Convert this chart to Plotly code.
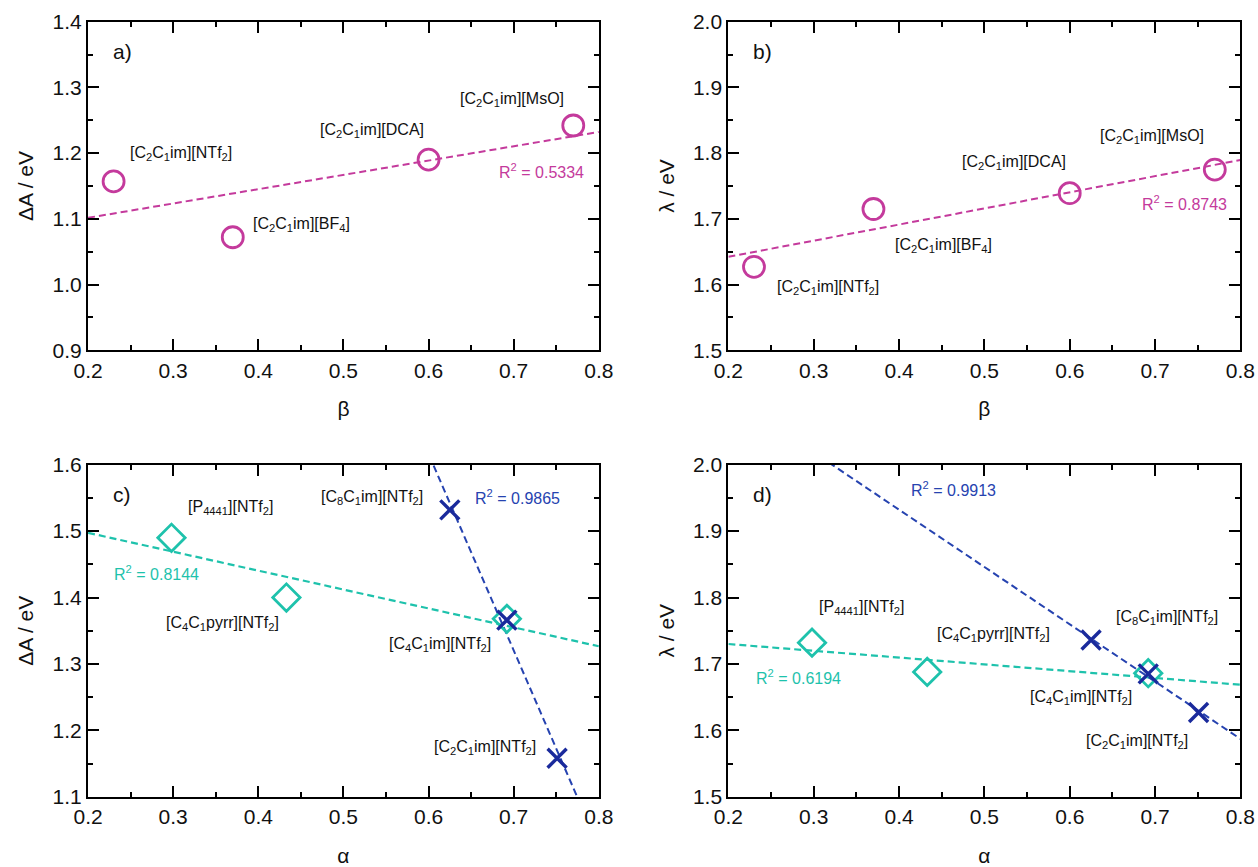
import numpy as np
import plotly.graph_objects as go

# ---- data ----
beta = [0.23, 0.37, 0.60, 0.77]
beta_dA = [1.157, 1.072, 1.190, 1.242]
beta_lam = [1.627, 1.715, 1.739, 1.775]
beta_names = ["[C<sub>2</sub>C<sub>1</sub>im][NTf<sub>2</sub>]",
              "[C<sub>2</sub>C<sub>1</sub>im][BF<sub>4</sub>]",
              "[C<sub>2</sub>C<sub>1</sub>im][DCA]",
              "[C<sub>2</sub>C<sub>1</sub>im][MsO]"]

alpha_diamond = [0.298, 0.433, 0.692]
diamond_dA = [1.490, 1.400, 1.368]
diamond_lam = [1.732, 1.688, 1.686]

alpha_cross = [0.625, 0.692, 0.751]
cross_dA = [1.532, 1.366, 1.158]
cross_lam = [1.736, 1.685, 1.627]

r2_labels = {"a": "0.5334", "b": "0.8743", "c_d": "0.8144", "c_x": "0.9865",
             "d_d": "0.6194", "d_x": "0.9913"}

MAG = "#C43A9C"
CYAN = "#1EC2AC"
NAVY = "#1A2A9C"
BLUE = "#2643B0"
FONT = "Liberation Sans, Arial, sans-serif"

fig = go.Figure()

xdom = {1: [0.070, 0.476], 2: [0.579, 0.986]}
ydom_top = [0.596, 0.975]
ydom_bot = [0.081, 0.464]

panels = [
    # (axis idx, xdomain, ydomain, yrange, xtitle, ytitle)
    (1, xdom[1], ydom_top, [0.9, 1.4], "β", "ΔA / eV"),
    (2, xdom[2], ydom_top, [1.5, 2.0], "β", "λ / eV"),
    (3, xdom[1], ydom_bot, [1.1, 1.6], "α", "ΔA / eV"),
    (4, xdom[2], ydom_bot, [1.5, 2.0], "α", "λ / eV"),
]

axis_common = dict(
    showline=True, linecolor="black", linewidth=2.2, mirror="allticks",
    ticks="inside", ticklen=11, tickwidth=1.8, tickcolor="black",
    showgrid=False, zeroline=False, automargin=False,
    tickfont=dict(family=FONT, size=21, color="#111"),
    minor=dict(ticks="inside", ticklen=5, tickwidth=1.5, tickcolor="black"),
)

layout = {}
for i, xd, yd, yr, xt, yt in panels:
    sx = "" if i == 1 else str(i)
    layout["xaxis" + sx] = dict(
        axis_common, domain=xd, range=[0.2, 0.8], dtick=0.1, tickformat=".1f",
        anchor="y" + sx, minor=dict(axis_common["minor"], dtick=0.05),
        title=dict(text=xt, font=dict(family=FONT, size=21, color="#111"), standoff=21),
    )
    layout["yaxis" + sx] = dict(
        axis_common, domain=yd, range=yr, dtick=0.1, tickformat=".1f",
        anchor="x" + sx, minor=dict(axis_common["minor"], dtick=0.05),
        title=dict(text=yt, font=dict(family=FONT, size=21, color="#111"), standoff=13),
    )


def fit_line(x, y, xref, yref, color, width=2.0):
    slope, icpt = np.polyfit(x, y, 1)
    xs = np.array([0.2, 0.8])
    fig.add_trace(go.Scatter(x=xs, y=slope * xs + icpt, mode="lines",
                             line=dict(color=color, width=width, dash="7px,4px"),
                             xaxis=xref, yaxis=yref, showlegend=False,
                             hoverinfo="skip"))


def points(x, y, xref, yref, symbol, color, size, lw):
    fig.add_trace(go.Scatter(x=x, y=y, mode="markers",
                             marker=dict(symbol=symbol, size=size, color=color,
                                         line=dict(color=color, width=lw)),
                             xaxis=xref, yaxis=yref, showlegend=False,
                             cliponaxis=False))


# a) ΔA vs β
fit_line(beta, beta_dA, "x", "y", MAG)
points(beta, beta_dA, "x", "y", "circle-open", MAG, 21, 2.8)
# b) λ vs β
fit_line(beta, beta_lam, "x2", "y2", MAG)
points(beta, beta_lam, "x2", "y2", "circle-open", MAG, 21, 2.8)
# c) ΔA vs α
fit_line(alpha_diamond, diamond_dA, "x3", "y3", CYAN, 2.2)
fit_line(alpha_cross, cross_dA, "x3", "y3", BLUE)
points(alpha_diamond, diamond_dA, "x3", "y3", "diamond-open", CYAN, 21, 2.8)
points(alpha_cross, cross_dA, "x3", "y3", "x-thin-open", NAVY, 19, 3.4)
# d) λ vs α
fit_line(alpha_diamond, diamond_lam, "x4", "y4", CYAN, 2.2)
fit_line(alpha_cross, cross_lam, "x4", "y4", BLUE)
points(alpha_diamond, diamond_lam, "x4", "y4", "diamond-open", CYAN, 21, 2.8)
points(alpha_cross, cross_lam, "x4", "y4", "x-thin-open", NAVY, 19, 3.4)

annotations = []


def label(text, x, y, xref, yref, color="#111", size=16):
    annotations.append(dict(text=text, x=x, y=y, xref=xref, yref=yref,
                            showarrow=False, xanchor="center", yanchor="middle",
                            font=dict(family=FONT, size=size, color=color)))


# panel tags
label("a)", 0.24, 1.354, "x", "y", size=21)
label("b)", 0.24, 1.954, "x2", "y2", size=21)
label("c)", 0.24, 1.555, "x3", "y3", size=21)
label("d)", 0.24, 1.955, "x4", "y4", size=21)

# a)
for name, (x, y) in zip(beta_names, [(0.309, 1.199), (0.451, 1.091), (0.534, 1.235), (0.698, 1.281)]):
    label(name, x, y, "x", "y")
label("R<sup>2</sup> = " + r2_labels["a"], 0.733, 1.173, "x", "y", MAG)

# b)
for name, (x, y) in zip(beta_names, [(0.317, 1.596), (0.452, 1.660), (0.535, 1.785), (0.697, 1.825)]):
    label(name, x, y, "x2", "y2")
label("R<sup>2</sup> = " + r2_labels["b"], 0.734, 1.724, "x2", "y2", MAG)

# c)
label("[P<sub>4441</sub>][NTf<sub>2</sub>]", 0.367, 1.535, "x3", "y3")
label("[C<sub>8</sub>C<sub>1</sub>im][NTf<sub>2</sub>]", 0.533, 1.550, "x3", "y3")
label("[C<sub>4</sub>C<sub>1</sub>pyrr][NTf<sub>2</sub>]", 0.358, 1.361, "x3", "y3")
label("[C<sub>4</sub>C<sub>1</sub>im][NTf<sub>2</sub>]", 0.613, 1.329, "x3", "y3")
label("[C<sub>2</sub>C<sub>1</sub>im][NTf<sub>2</sub>]", 0.666, 1.174, "x3", "y3")
label("R<sup>2</sup> = " + r2_labels["c_x"], 0.705, 1.552, "x3", "y3", BLUE)
label("R<sup>2</sup> = " + r2_labels["c_d"], 0.280, 1.437, "x3", "y3", CYAN)

# d)
label("[P<sub>4441</sub>][NTf<sub>2</sub>]", 0.356, 1.785, "x4", "y4")
label("[C<sub>4</sub>C<sub>1</sub>pyrr][NTf<sub>2</sub>]", 0.511, 1.745, "x4", "y4")
label("[C<sub>8</sub>C<sub>1</sub>im][NTf<sub>2</sub>]", 0.714, 1.770, "x4", "y4")
label("[C<sub>4</sub>C<sub>1</sub>im][NTf<sub>2</sub>]", 0.613, 1.649, "x4", "y4")
label("[C<sub>2</sub>C<sub>1</sub>im][NTf<sub>2</sub>]", 0.679, 1.583, "x4", "y4")
label("R<sup>2</sup> = " + r2_labels["d_x"], 0.464, 1.964, "x4", "y4", BLUE)
label("R<sup>2</sup> = " + r2_labels["d_d"], 0.282, 1.681, "x4", "y4", CYAN)

fig.update_layout(
    **layout,
    annotations=annotations,
    width=1258, height=867,
    margin=dict(l=0, r=0, t=0, b=0),
    paper_bgcolor="white", plot_bgcolor="white",
    showlegend=False,
    font=dict(family=FONT),
)

fig.write_html("out.html")
